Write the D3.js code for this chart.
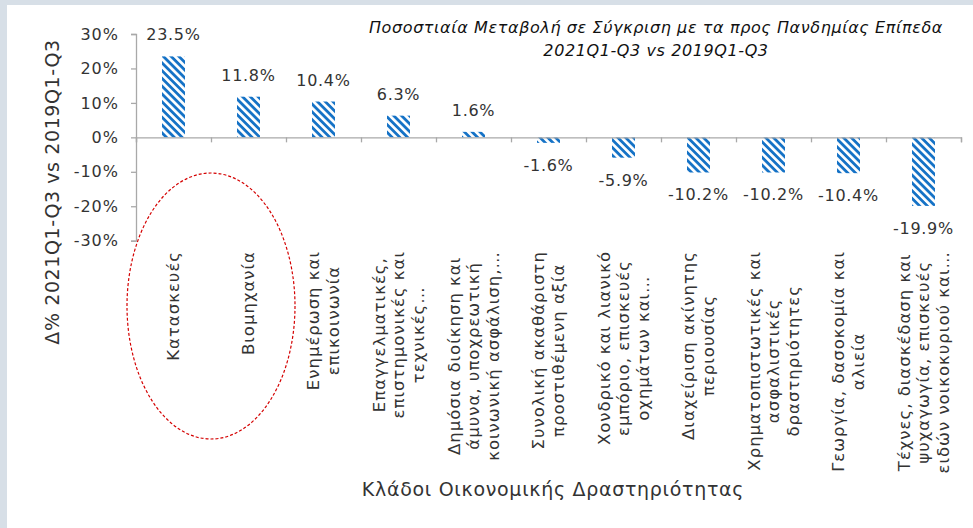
<!DOCTYPE html>
<html>
<head>
<meta charset="utf-8">
<script src="https://cdn.jsdelivr.net/npm/d3@7"></script>
<style>
  body { margin: 0; background: #d7dfe7; }
  svg { display: block; font-family: "DejaVu Sans", sans-serif; }
</style>
</head>
<body>
<div id="chart"></div>
<script>
// data
var categories = [
  "Κατασκευές",
  "Βιομηχανία",
  "Ενημέρωση και|επικοινωνία",
  "Επαγγελματικές,|επιστημονικές και|τεχνικές…",
  "Δημόσια διοίκηση και|άμυνα, υποχρεωτική|κοινωνική ασφάλιση,…",
  "Συνολική ακαθάριστη|προστιθέμενη αξία",
  "Χονδρικό και λιανικό|εμπόριο, επισκευές|οχημάτων και…",
  "Διαχείριση ακίνητης|περιουσίας",
  "Χρηματοπιστωτικές και|ασφαλιστικές|δραστηριότητες",
  "Γεωργία, δασοκομία και|αλιεία",
  "Τέχνες, διασκέδαση και|ψυχαγωγία, επισκευές|ειδών νοικοκυριού και…"
]
var changes = [23.5, 11.8, 10.4, 6.3, 1.6, -1.6, -5.9, -10.2, -10.2, -10.4, -19.9]
var yTicks = [30, 20, 10, 0, -10, -20, -30]
var titleLines = ["Ποσοστιαία Μεταβολή σε Σύγκριση με τα προς Πανδημίας Επίπεδα", "2021Q1-Q3 vs 2019Q1-Q3"]
var yTitle = "Δ% 2021Q1-Q3 vs 2019Q1-Q3"
var xTitle = "Κλάδοι Οικονομικής Δραστηριότητας"

var width = 973
var height = 528
var axisColor = "#a9a9a9"
var barBlue = "#1572c6"
var ink = "#333"

var svg = d3.select("#chart").append("svg")
  .attr("width", width)
  .attr("height", height)

// striped fill for the bars
var pat = svg.append("defs").append("pattern")
  .attr("id", "stripes")
  .attr("patternUnits", "userSpaceOnUse")
  .attr("width", 5.5)
  .attr("height", 5.5)
  .attr("patternTransform", "rotate(45)")
pat.append("rect").attr("width", 5.5).attr("height", 5.5).attr("fill", "#fff")
pat.append("rect").attr("width", 5.5).attr("height", 2.8).attr("fill", barBlue)

svg.append("rect")
  .attr("width", width).attr("height", height)
  .attr("fill", "#d7dfe7")
svg.append("rect")
  .attr("x", 7).attr("y", 5)
  .attr("width", width - 7).attr("height", height - 5)
  .attr("fill", "#fff")

var x = d3.scaleBand()
  .domain(d3.range(categories.length))
  .range([136, 961])

var y = d3.scaleLinear()
  .domain([-30, 30])
  .range([240.7, 34])

// y axis
var yAxis = svg.append("g")
  .attr("transform", "translate(136,0)")
  .call(d3.axisLeft(y).tickValues(yTicks).tickSize(5).tickPadding(12)
    .tickFormat(function(d){ return d + "%" }))
yAxis.select(".domain").attr("stroke", axisColor).attr("stroke-width", 1.3)
yAxis.selectAll(".tick line").attr("stroke", axisColor).attr("stroke-width", 1.3)
yAxis.selectAll(".tick text")
  .attr("font-size", 16)
  .attr("font-family", "DejaVu Sans")
  .attr("letter-spacing", 1)
  .attr("fill", ink)

// bars
var bw = 23
svg.append("g").selectAll("rect")
  .data(changes)
  .enter()
  .append("rect")
  .attr("x", function(d, i){ return x(i) + x.bandwidth()/2 - bw/2 })
  .attr("y", function(d){ return y(Math.max(0, d)) })
  .attr("width", bw)
  .attr("height", function(d){ return Math.abs(y(d) - y(0)) })
  .attr("fill", "url(#stripes)")

// category axis on the zero line
var xAxis = svg.append("g")
  .attr("transform", "translate(0," + y(0) + ")")
  .call(d3.axisBottom(d3.scaleLinear().domain([0, categories.length]).range([136, 961]))
    .tickValues(d3.range(0, categories.length + 1)).tickSize(5).tickFormat(""))
xAxis.select(".domain").attr("stroke", axisColor).attr("stroke-width", 1.3)
xAxis.selectAll(".tick line").attr("stroke", axisColor).attr("stroke-width", 1.3)

// value labels
svg.append("g").selectAll("text")
  .data(changes)
  .enter()
  .append("text")
  .attr("x", function(d, i){ return x(i) + x.bandwidth()/2 })
  .attr("y", function(d){ return d >= 0 ? y(d) - 16 : y(d) + 28 })
  .attr("text-anchor", "middle")
  .attr("font-size", 16)
  .attr("letter-spacing", 0.7)
  .attr("fill", ink)
  .text(function(d){ return d.toFixed(1) + "%" })

// rotated category labels, placed below the plot
var labelTop = 251
var lineGap = 19.5
var catG = svg.append("g").selectAll("g")
  .data(categories)
  .enter()
  .append("g")
  .attr("transform", function(d, i){ return "translate(" + (x(i) + x.bandwidth()/2) + "," + labelTop + ") rotate(-90)" })

catG.each(function(d){
  var lines = d.split("|")
  var g = d3.select(this)
  var texts = g.selectAll("text")
    .data(lines)
    .enter()
    .append("text")
    .attr("y", function(l, k){ return (k - (lines.length - 1)/2) * lineGap })
    .attr("dominant-baseline", "central")
    .attr("text-anchor", "middle")
    .attr("font-size", 16.5)
    .attr("letter-spacing", 1)
    .attr("fill", ink)
    .text(function(l){ return l })
  var maxLen = d3.max(texts.nodes(), function(n){ return n.getComputedTextLength() })
  texts.attr("x", -maxLen/2)
})

// highlight ellipse around the first two categories
svg.append("ellipse")
  .attr("cx", x(1))
  .attr("cy", 306)
  .attr("rx", 84)
  .attr("ry", 133)
  .attr("fill", "none")
  .attr("stroke", "#d40000")
  .attr("stroke-width", 1.2)
  .attr("stroke-dasharray", "3,2")

// titles
svg.append("text")
  .attr("transform", "translate(52," + 192 + ") rotate(-90)")
  .attr("text-anchor", "middle")
  .attr("dominant-baseline", "central")
  .attr("font-size", 19)
  .attr("letter-spacing", 0.6)
  .attr("fill", ink)
  .text(yTitle)

svg.append("text")
  .attr("x", 553)
  .attr("y", 496)
  .attr("text-anchor", "middle")
  .attr("font-size", 19)
  .attr("letter-spacing", 0.7)
  .attr("fill", ink)
  .text(xTitle)

svg.append("g").selectAll("text")
  .data(titleLines)
  .enter()
  .append("text")
  .attr("x", 656)
  .attr("y", function(d, i){ return 33 + i * 23 })
  .attr("text-anchor", "middle")
  .attr("font-size", 16)
  .attr("letter-spacing", 0.6)
  .attr("font-style", "italic")
  .attr("fill", "#111")
  .text(function(d){ return d })
</script>
</body>
</html>
